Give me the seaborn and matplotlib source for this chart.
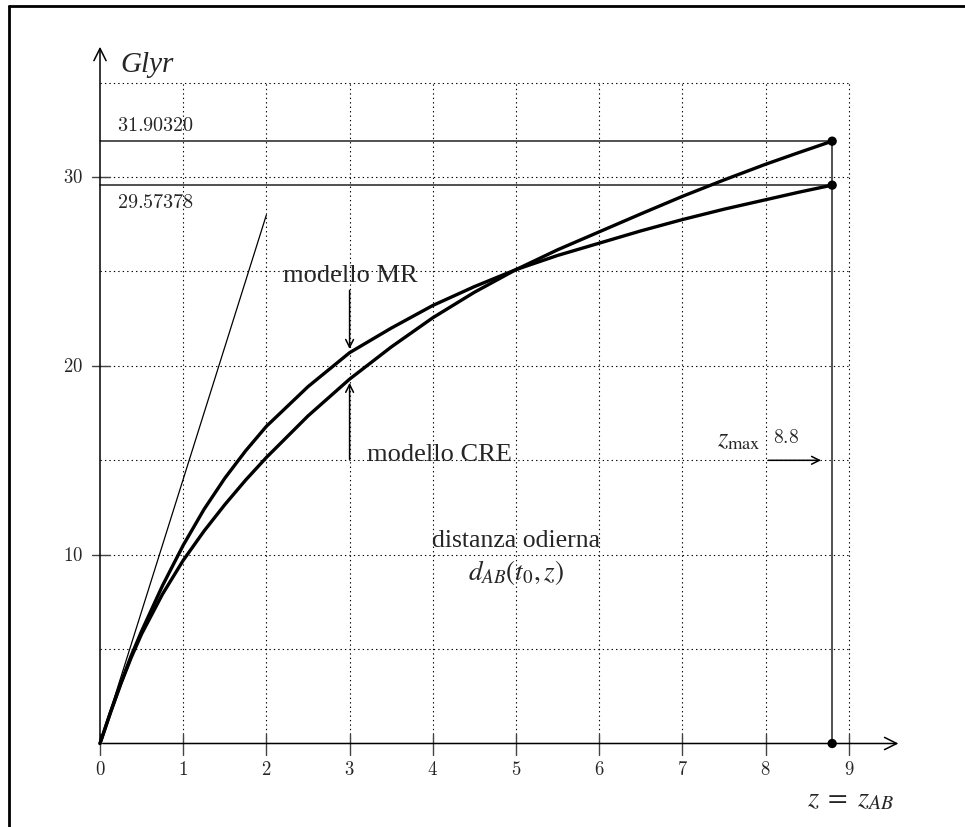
import numpy as np
import pandas as pd
import matplotlib.pyplot as plt
import seaborn as sns

# redshift and today's distance (Glyr) for the two models
z = [0, 0.125, 0.25, 0.375, 0.5, 0.75, 1, 1.25, 1.5, 1.75, 2, 2.5, 3, 3.5, 4, 4.5, 5, 5.5, 6,
     6.5, 7, 7.5, 8, 8.4, 8.8]
d_mr = [0, 1.65, 3.2, 4.65, 5.95, 8.35, 10.5, 12.4, 14.05, 15.5, 16.8, 18.9, 20.7, 22.0, 23.2,
        24.2, 25.1, 25.85, 26.5, 27.15, 27.75, 28.3, 28.8, 29.2, 29.57378]
d_cre = [0, 1.62, 3.15, 4.55, 5.8, 7.9, 9.7, 11.25, 12.65, 13.95, 15.15, 17.35, 19.3, 21.0, 22.55,
         23.9, 25.1, 26.15, 27.1, 28.05, 28.98, 29.85, 30.68, 31.3, 31.90320]
z_max = 8.8
tangent_z = [0, 2]
tangent_d = [0, 28]
x_ticks = [0, 1, 2, 3, 4, 5, 6, 7, 8, 9]
y_ticks = [10, 20, 30]
grid_x = [1, 2, 3, 4, 5, 6, 7, 8, 9]
grid_y = [5, 10, 15, 20, 25, 30, 35]

sns.set_style("white")
plt.rcParams['font.family'] = ['Liberation Serif', 'DejaVu Serif']

fig = plt.figure(figsize=(9.65, 8.28), dpi=100)
ax = fig.add_axes([0, 0, 1, 1])

# the two model curves
df = pd.DataFrame({'z': z + z, 'd': d_mr + d_cre,
                   'modello': ['MR'] * len(z) + ['CRE'] * len(z)})
sns.lineplot(data=df, x='z', y='d', hue='modello', palette=['black', 'black'],
             lw=2.4, legend=False, estimator=None, ax=ax, zorder=4)
ends = pd.DataFrame({'z': [z_max, z_max, z_max], 'd': [d_cre[-1], d_mr[-1], 0]})
sns.scatterplot(data=ends, x='z', y='d', color='black', s=45, edgecolor='none', ax=ax, zorder=5)

ax.set_xlim(-1.2019, 10.3966)
ax.set_ylim(-4.4227, 39.433)
ax.set_axis_off()

# frame (left and top edge)
ax.plot([-1.094, -1.094], [-5, 39.06], color='black', lw=2, clip_on=False)
ax.plot([-1.094, 11], [39.06, 39.06], color='black', lw=2, clip_on=False)

# dotted grid
dots = (0, (1.2, 2.8))
for gx in grid_x:
    ax.plot([gx, gx], [0, 35], color='black', lw=0.8, ls=dots)
for gy in grid_y:
    ax.plot([0, 9], [gy, gy], color='black', lw=0.8, ls=dots)

# axes with arrows
ax.annotate('', xy=(9.63, 0), xytext=(0, 0),
            arrowprops=dict(arrowstyle='->', lw=1.1, color='black', mutation_scale=22))
ax.annotate('', xy=(0, 37.05), xytext=(0, 0),
            arrowprops=dict(arrowstyle='->', lw=1.1, color='black', mutation_scale=22))

# ticks and labels
for t in x_ticks:
    ax.plot([t, t], [-0.6, 0.5], color='#444444', lw=1)
    ax.text(t, -1.35, f'${t}$', ha='center', va='center', fontsize=13.5, math_fontfamily='cm')
for t in y_ticks:
    ax.plot([-0.1, 0.12], [t, t], color='#444444', lw=1)
    ax.text(-0.2, t, f'${t}$', ha='right', va='center', fontsize=13.5, math_fontfamily='cm')

# reference lines at the final values
ax.plot([0, z_max], [d_cre[-1], d_cre[-1]], color='#222222', lw=1.1)
ax.plot([0, z_max], [d_mr[-1], d_mr[-1]], color='#222222', lw=1.1)
ax.plot([z_max, z_max], [0, d_cre[-1]], color='#222222', lw=1.1)
ax.text(0.2, 32.75, f'${d_cre[-1]:.5f}$', ha='left', va='center', fontsize=14.5, math_fontfamily='cm')
ax.text(0.2, 28.68, f'${d_mr[-1]:.5f}$', ha='left', va='center', fontsize=14.5, math_fontfamily='cm')

# tangent at the origin
ax.plot(tangent_z, tangent_d, color='black', lw=0.9)

# annotations
ax.text(0.24, 36.0, 'Glyr', style='italic', fontsize=21, ha='left', va='center')
ax.text(2.2, 24.5, 'modello MR', fontsize=19, ha='left', va='baseline')
ax.annotate('', xy=(3, 20.75), xytext=(3, 24.15),
            arrowprops=dict(arrowstyle='->', lw=1.1, color='black', mutation_scale=14))
ax.text(3.21, 15.0, 'modello CRE', fontsize=19, ha='left', va='baseline')
ax.annotate('', xy=(3, 19.25), xytext=(3, 14.9),
            arrowprops=dict(arrowstyle='->', lw=1.1, color='black', mutation_scale=14))
ax.text(5.0, 10.48, 'distanza odierna', fontsize=18.5, ha='center', va='baseline')
ax.text(5.0, 8.7, r'$d_{AB}(t_0,z)$', fontsize=19.5, ha='center', va='baseline', math_fontfamily='stix')
ax.text(7.42, 15.77, r'$z_{\rm max}$', fontsize=19, ha='left', va='baseline', math_fontfamily='stix')
ax.text(8.09, 15.97, r'$8.8$', fontsize=14, ha='left', va='baseline', math_fontfamily='cm')
ax.annotate('', xy=(8.7, 15), xytext=(8.0, 15),
            arrowprops=dict(arrowstyle='->', lw=1.1, color='black', mutation_scale=14))
ax.text(8.5, -3.3, r'$z\;=\;z_{AB}$', fontsize=20.5, ha='left', va='baseline', math_fontfamily='stix')

plt.savefig('out.png', dpi=100)
